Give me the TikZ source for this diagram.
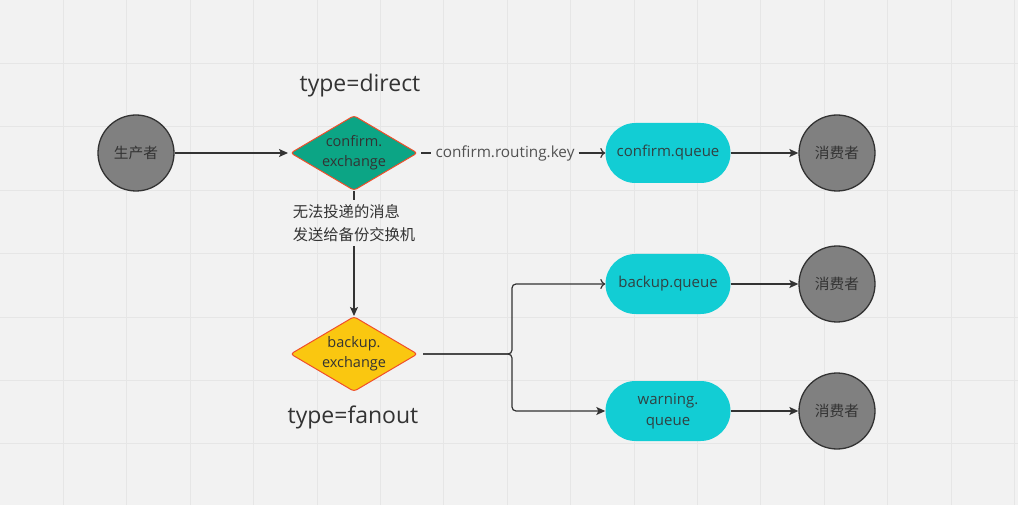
\documentclass[tikz,border=0pt]{standalone}
\usepackage{fontspec}
\usepackage{xcolor}
\usepackage{tikz}
\setmainfont{Open Sans}
\newfontfamily\cjk{Noto Sans CJK SC}
\usetikzlibrary{shapes.geometric,arrows.meta,positioning}

\definecolor{bgcol}{HTML}{F2F2F2}
\definecolor{gridcol}{HTML}{E6E6E6}
\definecolor{rimcol}{HTML}{F04E2A}
\definecolor{greencol}{HTML}{0CA585}
\definecolor{yellowcol}{HTML}{FAC710}
\definecolor{cyancol}{HTML}{12CDD4}
\definecolor{inkcol}{HTML}{333333}

\begin{document}
\begin{tikzpicture}[x=1pt, y=-1pt,
    person/.style={circle, draw=inkcol, line width=1.3pt, fill=gray, minimum size=76pt, inner sep=0pt, text=inkcol, font=\cjk\fontsize{14.7}{18}\selectfont},
    exch/.style={diamond, draw=rimcol, line width=1pt, rounded corners=3pt, minimum width=127pt, minimum height=75pt, inner sep=0pt, aspect=1.7, align=center, text=inkcol, font=\fontsize{14.5}{20}\selectfont},
    queue/.style={rectangle, rounded corners=30pt, fill=cyancol, minimum width=125pt, minimum height=60pt, align=center, text=inkcol!90!cyancol, font=\fontsize{15}{21}\selectfont},
    link/.style={draw=inkcol, line width=1.2pt},
    fullarrow/.style={link, -{Stealth[length=9pt, width=8pt, inset=2pt]}},
    openarrow/.style={link, -{To[length=5pt, width=10pt]}}
  ]
    % background and grid
    \useasboundingbox (0,0) rectangle (1018,505);
    \fill[bgcol] (0,0) rectangle (1018,505);
    \foreach \i in {1,...,16} \draw[gridcol, line width=0.8pt] (\i*63.4,0) -- (\i*63.4,505);
    \foreach \j in {1,...,7} \draw[gridcol, line width=0.8pt] (0,\j*63.4) -- (1018,\j*63.4);

    % nodes
    \node[person] (prod) at (136,153) {生产者};
    \node[exch, fill=greencol] (cex) at (354,153) {confirm.\\exchange};
    \node[exch, fill=yellowcol] (bex) at (354,354) {backup.\\exchange};
    \node[queue] (cq) at (668,153) {confirm.queue};
    \node[queue] (bq) at (668,284) {backup.queue};
    \node[queue] (wq) at (668,411) {warning.\\queue};
    \node[person] (con1) at (837,153) {消费者};
    \node[person] (con2) at (837,284) {消费者};
    \node[person] (con3) at (837,411) {消费者};

    % labels
    \node[text=inkcol, font=\fontsize{23}{27}\selectfont] (tdirect) at (360,86) {type=direct};
    \node[text=inkcol, font=\fontsize{23}{27}\selectfont] (tfanout) at (353,417) {type=fanout};
    \node[text=inkcol!85, inner sep=4pt, font=\fontsize{15.3}{18}\selectfont] (rkey) at (505,153) {confirm.routing.key};
    \node[text=inkcol, align=left, inner sep=4pt, font=\cjk\fontsize{15.3}{23}\selectfont] (backlbl) at (354,223) {无法投递的消息\\发送给备份交换机};
    \coordinate (fork) at (512,354);

    % connectors
    \draw[fullarrow, shorten >=2pt] (prod) -- (cex);
    \draw[link, shorten <=3pt] (cex) -- (rkey);
    \draw[openarrow] (rkey) -- (cq);
    \draw[fullarrow] (cq) -- (con1);
    \draw[link] (cex) -- (backlbl);
    \draw[fullarrow] (backlbl) -- (bex);
    \draw[openarrow, rounded corners=4pt, shorten <=5pt] (bex) -- (fork) |- (bq);
    \draw[fullarrow, rounded corners=4pt, shorten <=5pt] (bex) -- (fork) |- (wq);
    \draw[fullarrow] (bq) -- (con2);
    \draw[fullarrow] (wq) -- (con3);
\end{tikzpicture}
\end{document}
